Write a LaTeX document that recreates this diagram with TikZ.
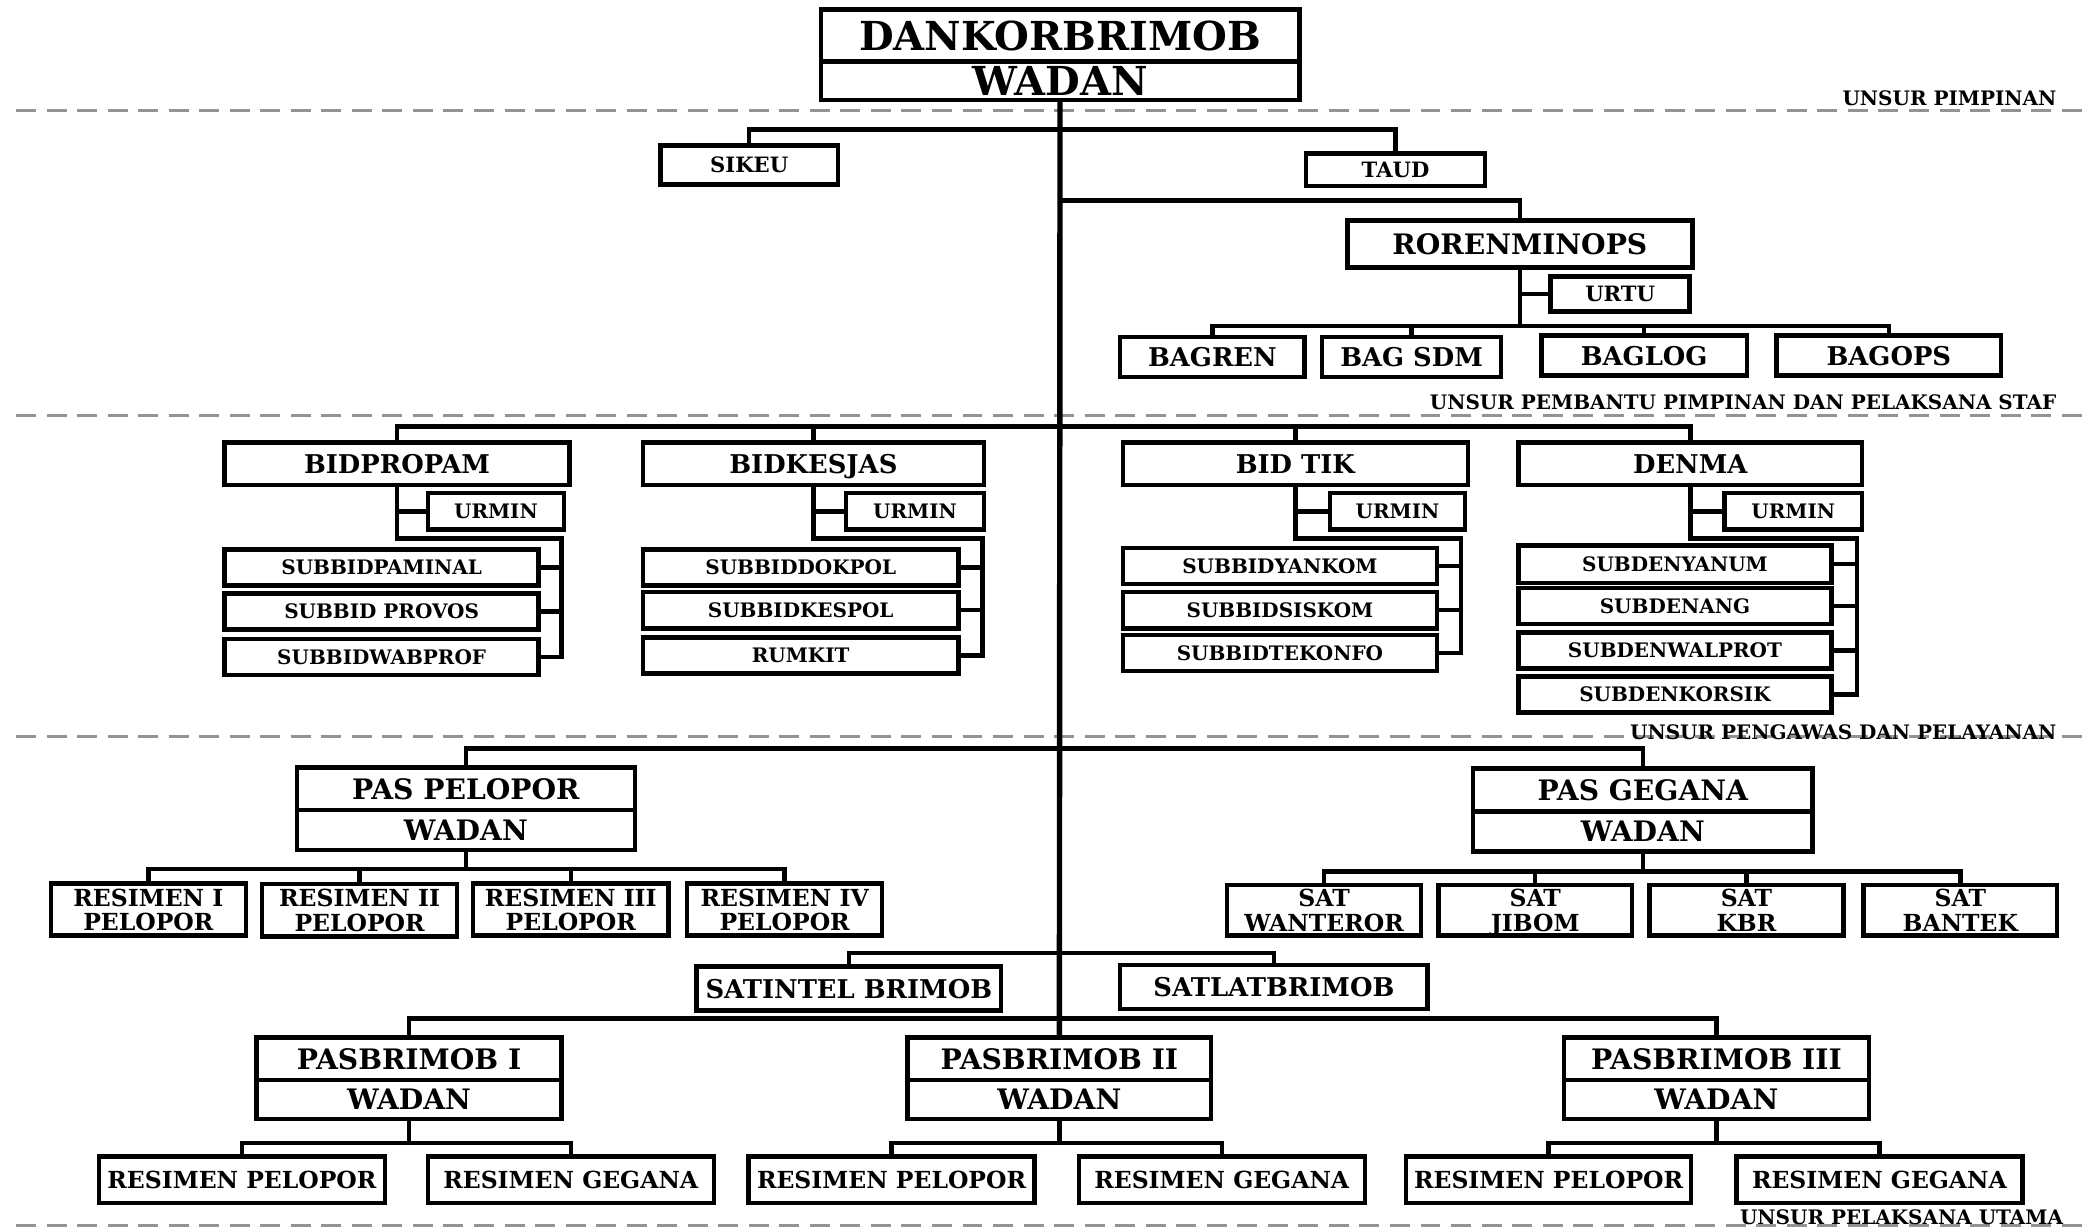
\documentclass[tikz,border=0pt]{standalone}
\usepackage{fontspec}
\setmainfont{DejaVu Serif}
\usepackage{tikz}
\usetikzlibrary{positioning}
\tikzset{every path/.append style={line width=1.9pt}}
\tikzset{
  box/.style={draw, inner sep=0pt, outer sep=0pt, align=center},
  one/.style={box, text depth=0pt},
  sz/.style 2 args={minimum width=#1*0.02cm, minimum height=#2*0.02cm},
  title/.style={one, font=\bfseries\fontsize{17}{17}\selectfont},
  big/.style={one, font=\bfseries\fontsize{12}{12}\selectfont},
  bid/.style={one, font=\bfseries\fontsize{11}{11}\selectfont},
  small/.style={one, font=\bfseries\fontsize{9}{9}\selectfont},
  sub/.style={one, font=\bfseries\fontsize{8.5}{8.5}\selectfont},
  two/.style={one, font=\bfseries\fontsize{10}{10.5}\selectfont},
  res/.style={one, font=\bfseries\fontsize{10}{10}\selectfont},
  unsur/.style={inner sep=0pt, font=\bfseries\fontsize{8.5}{8.5}\selectfont},
  sep/.style={gray!85, line width=1.3pt, dash pattern=on 8.5pt off 4.5pt},
  trunk/.style={line width=2.3pt}
}

\begin{document}
\begin{tikzpicture}[x=0.02cm, y=-0.02cm]
 \useasboundingbox (0,0) rectangle (1568,919);
 % garis pemisah unsur
 \draw[sep] (12,83) -- (1562,83);
 \draw[sep] (12,311) -- (1562,311);
 \draw[sep] (12,551) -- (1562,551);
 \draw[sep] (12,917) -- (1562,917);
 \node[unsur, anchor=base east] (u1) at (1540,79) {UNSUR PIMPINAN};
 \node[unsur, anchor=base east] (u2) at (1540,306) {UNSUR PEMBANTU PIMPINAN DAN PELAKSANA STAF};
 \node[unsur, anchor=base east] (u3) at (1540,553) {UNSUR PENGAWAS DAN PELAYANAN};
 \node[unsur, anchor=base east] (u4) at (1545,916) {UNSUR PELAKSANA UTAMA};

 % pimpinan
 \node[title, sz={358}{39}] (dan) at (793,26.5) {DANKORBRIMOB};
 \node[title, sz={358}{29}, below=0pt of dan] (danw) {WADAN};

 % pembantu pimpinan
 \node[small, sz={133}{29}] (sikeu) at (560.5,123.5) {SIKEU};
 \node[small, sz={134}{24}] (taud) at (1044,127) {TAUD};
 \node[big, sz={258}{35}] (roren) at (1137,182.5) {RORENMINOPS};
 \node[small, sz={104}{26}] (urtu) at (1212,220) {URTU};
 \node[bid, sz={138}{30}] (bagren) at (907,267) {BAGREN};
 \node[bid, sz={134}{30}] (bagsdm) at (1056,267) {BAG SDM};
 \node[bid, sz={154}{30}] (baglog) at (1230,266) {BAGLOG};
 \node[bid, sz={168}{30}] (bagops) at (1413,266) {BAGOPS};

 % pengawas dan pelayanan
 \node[bid, sz={258}{32}] (bidpropam) at (297,347) {BIDPROPAM};
 \node[sub, sz={102}{27}] (urmin1) at (371,382.5) {URMIN};
 \node[sub, sz={235}{27}] (pam1) at (285.5,424.5) {SUBBIDPAMINAL};
 \node[sub, sz={235}{27}] (pam2) at (285.5,457.5) {SUBBID PROVOS};
 \node[sub, sz={235}{27}] (pam3) at (285.5,491.5) {SUBBIDWABPROF};

 \node[bid, sz={255}{32}] (bidkesjas) at (608.5,347) {BIDKESJAS};
 \node[sub, sz={103}{27}] (urmin2) at (684.5,382.5) {URMIN};
 \node[sub, sz={236}{27}] (kes1) at (599,424.5) {SUBBIDDOKPOL};
 \node[sub, sz={236}{27}] (kes2) at (599,456.5) {SUBBIDKESPOL};
 \node[sub, sz={236}{27}] (kes3) at (599,490.5) {RUMKIT};

 \node[bid, sz={258}{32}] (bidtik) at (969,347) {BID TIK};
 \node[sub, sz={101}{27}] (urmin3) at (1045.5,382.5) {URMIN};
 \node[sub, sz={235}{27}] (tik1) at (957.5,423.5) {SUBBIDYANKOM};
 \node[sub, sz={235}{27}] (tik2) at (957.5,456.5) {SUBBIDSISKOM};
 \node[sub, sz={235}{27}] (tik3) at (957.5,488.5) {SUBBIDTEKONFO};

 \node[bid, sz={257}{32}] (denma) at (1264.5,347) {DENMA};
 \node[sub, sz={103}{27}] (urmin4) at (1341.5,382.5) {URMIN};
 \node[sub, sz={234}{28}] (den1) at (1253,422) {SUBDENYANUM};
 \node[sub, sz={234}{27}] (den2) at (1253,453.5) {SUBDENANG};
 \node[sub, sz={234}{27}] (den3) at (1253,486.5) {SUBDENWALPROT};
 \node[sub, sz={234}{27}] (den4) at (1253,519.5) {SUBDENKORSIK};

 % pelaksana utama
 \node[big, sz={253}{32}] (pel) at (348.5,590) {PAS PELOPOR};
 \node[big, sz={253}{30}, below=0pt of pel] (pelw) {WADAN};
 \node[two, sz={146}{39}] (res1) at (111,680.5) {RESIMEN I\\PELOPOR};
 \node[two, sz={146}{39}] (res2) at (269,681) {RESIMEN II\\PELOPOR};
 \node[two, sz={146}{39}] (res3) at (427,680.5) {RESIMEN III\\PELOPOR};
 \node[two, sz={146}{39}] (res4) at (587,680.5) {RESIMEN IV\\PELOPOR};

 \node[big, sz={254}{32}] (geg) at (1229,591) {PAS GEGANA};
 \node[big, sz={254}{30}, below=0pt of geg] (gegw) {WADAN};
 \node[two, sz={145}{38}] (sat1) at (990.5,681) {SAT\\WANTEROR};
 \node[two, sz={145}{38}] (sat2) at (1148.5,681) {SAT\\JIBOM};
 \node[two, sz={145}{38}] (sat3) at (1306.5,681) {SAT\\KBR};
 \node[two, sz={145}{38}] (sat4) at (1466.5,681) {SAT\\BANTEK};

 \node[bid, sz={228}{33}] (satintel) at (635,739.5) {SATINTEL BRIMOB};
 \node[bid, sz={230}{33}] (satlat) at (953,738.5) {SATLATBRIMOB};

 \node[big, sz={228}{32}] (pb1) at (306,792) {PASBRIMOB I};
 \node[big, sz={228}{29}, below=0pt of pb1] (pb1w) {WADAN};
 \node[big, sz={227}{32}] (pb2) at (792.5,792) {PASBRIMOB II};
 \node[big, sz={227}{29}, below=0pt of pb2] (pb2w) {WADAN};
 \node[big, sz={228}{32}] (pb3) at (1284,792) {PASBRIMOB III};
 \node[big, sz={228}{29}, below=0pt of pb3] (pb3w) {WADAN};
 \node[res, sz={214}{35}] (rp1) at (181,882.5) {RESIMEN PELOPOR};
 \node[res, sz={214}{35}] (rg1) at (427,882.5) {RESIMEN GEGANA};
 \node[res, sz={214}{35}] (rp2) at (667,882.5) {RESIMEN PELOPOR};
 \node[res, sz={214}{35}] (rg2) at (914,882.5) {RESIMEN GEGANA};
 \node[res, sz={213}{35}] (rp3) at (1158.5,882.5) {RESIMEN PELOPOR};
 \node[res, sz={214}{35}] (rg3) at (1406,882.5) {RESIMEN GEGANA};

 % garis komando
 \draw[trunk] (danw.south) -- (pb2.north);
 \draw (sikeu.north) -- ++(0,-12) -| (taud.north);
 \coordinate (t1) at (793,150);
 \draw (t1) -| (roren.north);
 \coordinate (rbus) at (1137,244);
 \draw (roren.south) -- (rbus);
 \draw (roren.south |- urtu.west) -- (urtu.west);
 \draw (bagren.north) |- (rbus) -| (bagops.north);
 \draw (bagsdm.north) -- (bagsdm.north |- rbus);
 \draw (baglog.north) -- (baglog.north |- rbus);

 \coordinate (bbus) at (793,319);
 \draw (bidpropam.north) |- (bbus) -| (denma.north);
 \draw (bidkesjas.north) -- (bidkesjas.north |- bbus);
 \draw (bidtik.north) -- (bidtik.north |- bbus);

 \coordinate (g1) at (420,403);
 \draw (bidpropam.south) |- (g1) |- (pam3.east);
 \draw (bidpropam.south |- urmin1.west) -- (urmin1.west);
 \draw (pam1.east) -- (pam1.east -| g1);
 \draw (pam2.east) -- (pam2.east -| g1);

 \coordinate (g2) at (735,403);
 \draw (bidkesjas.south) |- (g2) |- (kes3.east);
 \draw (bidkesjas.south |- urmin2.west) -- (urmin2.west);
 \draw (kes1.east) -- (kes1.east -| g2);
 \draw (kes2.east) -- (kes2.east -| g2);

 \coordinate (g3) at (1093,403);
 \draw (bidtik.south) |- (g3) |- (tik3.east);
 \draw (bidtik.south |- urmin3.west) -- (urmin3.west);
 \draw (tik1.east) -- (tik1.east -| g3);
 \draw (tik2.east) -- (tik2.east -| g3);

 \coordinate (g4) at (1389,403);
 \draw (denma.south) |- (g4) |- (den4.east);
 \draw (denma.south |- urmin4.west) -- (urmin4.west);
 \draw (den1.east) -- (den1.east -| g4);
 \draw (den2.east) -- (den2.east -| g4);
 \draw (den3.east) -- (den3.east -| g4);

 \draw (pel.north) -- ++(0,-14) -| (geg.north);
 \coordinate (pbus) at (348.5,650);
 \draw (pelw.south) -- (pbus);
 \draw (res1.north) |- (pbus) -| (res4.north);
 \draw (res2.north) -- (res2.north |- pbus);
 \draw (res3.north) -- (res3.north |- pbus);
 \coordinate (gbus) at (1229,652);
 \draw (gegw.south) -- (gbus);
 \draw (sat1.north) |- (gbus) -| (sat4.north);
 \draw (sat2.north) -- (sat2.north |- gbus);
 \draw (sat3.north) -- (sat3.north |- gbus);

 \draw (satintel.north) -- ++(0,-10) -| (satlat.north);
 \draw (pb1.north) -- ++(0,-14) -| (pb3.north);
 \draw (pb1w.south) -- ++(0,18) coordinate (b1);
 \draw (rp1.north) |- (b1) -| (rg1.north);
 \draw (pb2w.south) -- ++(0,18) coordinate (b2);
 \draw (rp2.north) |- (b2) -| (rg2.north);
 \draw (pb3w.south) -- ++(0,18) coordinate (b3);
 \draw (rp3.north) |- (b3) -| (rg3.north);
\end{tikzpicture}
\end{document}
